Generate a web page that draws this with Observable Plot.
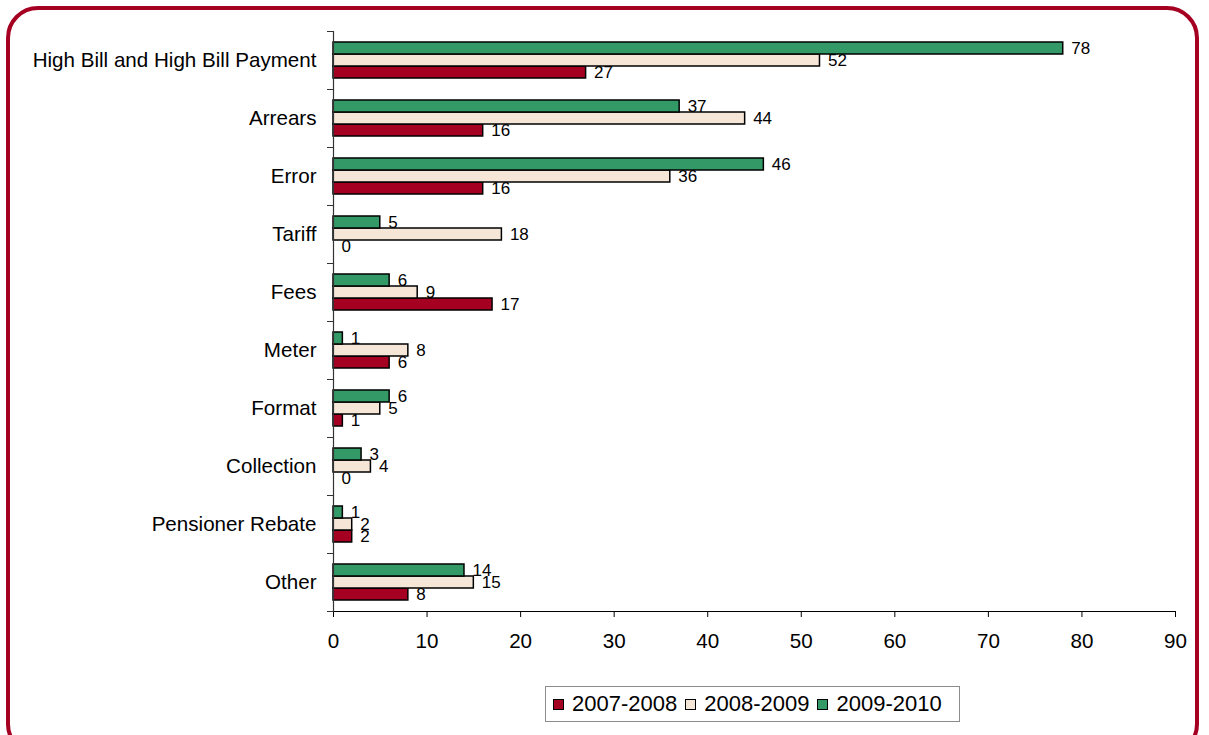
<!DOCTYPE html>
<html>
<head>
<meta charset="utf-8">
<script src="https://cdn.jsdelivr.net/npm/d3@7"></script>
<script src="https://cdn.jsdelivr.net/npm/@observablehq/plot@0.6"></script>
<style>
  html, body { margin: 0; padding: 0; background: #fff; }
  #wrap { position: relative; width: 1209px; height: 735px; overflow: hidden; font-family: "Liberation Sans", Arial, sans-serif; }
  #border { position: absolute; left: 6px; top: 6px; width: 1193px; height: 750px; border: 4px solid #A50021; border-radius: 32px; box-sizing: border-box; }
  #chart { position: absolute; left: 0; top: 0; }
  #legend { position: absolute; left: 545px; top: 686px; width: 415px; height: 36px; box-sizing: border-box; border: 1px solid #8c8c8c; background: #fff;
            display: flex; align-items: center; padding-left: 7px; font-size: 22px; color: #000; }
  .item { display: flex; align-items: center; margin-right: 8px; }
  .sw { width: 9px; height: 9px; border: 1.5px solid #000; margin-right: 8px; }
</style>
</head>
<body>
<div id="wrap">
  <div id="border"></div>
  <div id="chart"></div>
  <div id="legend"></div>
</div>
<script>
const categories = ["High Bill and High Bill Payment", "Arrears", "Error", "Tariff", "Fees", "Meter", "Format", "Collection", "Pensioner Rebate", "Other"];
const seriesNames = ["2007-2008", "2008-2009", "2009-2010"];
const values2007 = [27, 16, 16, 0, 17, 6, 1, 0, 2, 8];
const values2008 = [52, 44, 36, 18, 9, 8, 5, 4, 2, 15];
const values2009 = [78, 37, 46, 5, 6, 1, 6, 3, 1, 14];
const seriesColors = ["#A50021", "#F5E6D8", "#339966"];
const xTicks = [0, 10, 20, 30, 40, 50, 60, 70, 80, 90];

const seriesValues = [values2007, values2008, values2009];
const rows = [];
categories.forEach((c, i) => {
  seriesNames.forEach((s, j) => rows.push({cat: c, series: s, value: seriesValues[j][i]}));
});

const W = 1209, H = 660, mL = 333, mR = 34, mT = 30, mB = 48;

const chart = Plot.plot({
  width: W, height: H,
  marginLeft: mL, marginRight: mR, marginTop: mT, marginBottom: mB,
  style: {fontFamily: "Liberation Sans, Arial, sans-serif", fontSize: "20.6px", color: "#000", background: "transparent", overflow: "visible"},
  x: {domain: [0, 90], ticks: xTicks, tickSize: 6, tickPadding: 16, line: true, label: null},
  y: {domain: ["2009-2010", "2008-2009", "2007-2008"], paddingInner: 0, paddingOuter: 0.74, axis: null},
  fy: {domain: categories, padding: 0, tickSize: 0, tickPadding: 17, label: null, axis: "left"},
  color: {domain: seriesNames, range: seriesColors},
  marks: [
    Plot.barX(rows, {x: "value", y: "series", fy: "cat", fill: "series", stroke: "#000", strokeWidth: 1.5}),
    Plot.ruleX([0], {stroke: "#333", strokeWidth: 1.2}),
    Plot.frame({anchor: "top", insetLeft: -6, insetRight: W - mL - mR, stroke: "#333"}),
    Plot.frame({anchor: "bottom", insetLeft: -6, insetRight: W - mL - mR, stroke: "#333"}),
    Plot.text(rows, {x: "value", y: "series", fy: "cat", text: d => String(d.value), dx: 8, textAnchor: "start", fontSize: 17, fill: "#000"})
  ]
});
document.getElementById("chart").appendChild(chart);

const legend = document.getElementById("legend");
seriesNames.forEach((s, j) => {
  const it = document.createElement("div");
  it.className = "item";
  const sw = document.createElement("div");
  sw.className = "sw";
  sw.style.background = seriesColors[j];
  const t = document.createElement("span");
  t.textContent = s;
  it.appendChild(sw); it.appendChild(t);
  legend.appendChild(it);
});
</script>
</body>
</html>
